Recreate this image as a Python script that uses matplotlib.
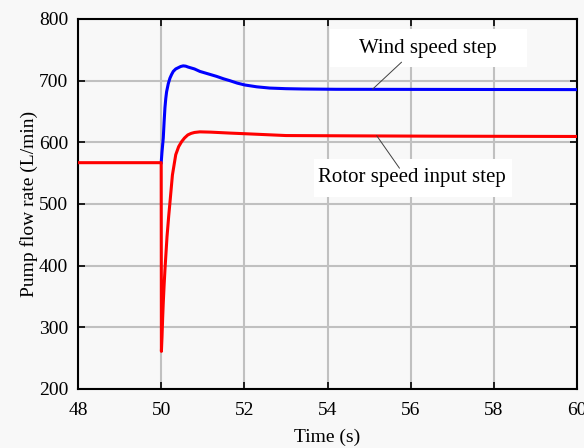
import matplotlib.pyplot as plt
from matplotlib.patches import Rectangle

plt.rcParams["font.family"] = ["Liberation Serif", "DejaVu Serif"]

# red: rotor speed input step
tRotor = [48, 50.0, 50.005, 50.02, 50.035, 50.05, 50.07, 50.09, 50.14, 50.18,
          50.21, 50.27, 50.35, 50.42, 50.49, 50.56, 50.64, 50.72, 50.8, 50.93,
          51.2, 51.65, 52.0, 52.5, 53.0, 54.6, 56.5, 60]
qRotor = [567, 567, 261, 285, 315, 340, 368, 393, 447, 480,
          502, 547, 580, 593, 601, 607, 612, 614.5, 616, 617,
          616.5, 615, 614, 612.5, 611, 610.5, 610, 609.5]

# blue: wind speed step
tWind = [50.0, 50.02, 50.05, 50.07, 50.09, 50.11, 50.13, 50.17, 50.21, 50.25,
         50.29, 50.35, 50.41, 50.47, 50.53, 50.59, 50.65, 50.8, 50.93, 51.13,
         51.33, 51.5, 51.65, 51.83, 52.01, 52.3, 52.61, 53.0, 53.4, 54.2, 60]
qWind = [567, 585, 607, 633, 656, 671, 682, 695, 704, 710,
         715, 719, 721, 723, 724, 723.5, 722, 719, 715, 711,
         707, 703, 700, 696, 693, 690, 688, 687, 686.5, 686, 685.5]

xTicks = [48, 50, 52, 54, 56, 58, 60]
yTicks = [200, 300, 400, 500, 600, 700, 800]

bg = "#f8f8f8"
fig = plt.figure(figsize=(5.84, 4.48), dpi=100, facecolor=bg)
ax = fig.add_axes([0.1336, 0.1317, 0.8545, 0.8259], facecolor=bg)

ax.plot(tWind, qWind, color="#0000ff", lw=2.2, zorder=3)
ax.plot(tRotor, qRotor, color="#ff0000", lw=2.2, zorder=4)

ax.set_xlim(48, 60)
ax.set_ylim(200, 800)
ax.set_xticks(xTicks)
ax.set_yticks(yTicks)
ax.grid(color="#c0c0c0", lw=1.5)
ax.set_axisbelow(True)
ax.tick_params(direction="in", length=5, width=1.2, labelsize=14,
               top=True, right=True)
ax.tick_params(axis="x", pad=9.5)
ax.tick_params(axis="y", pad=7)
for s in ax.spines.values():
    s.set_linewidth(1.5)

ax.set_xlabel("Time (s)", fontsize=14, labelpad=7)
ax.set_ylabel("Pump flow rate (L/min)", fontsize=14, labelpad=1)

# label boxes and leader lines
ax.add_patch(Rectangle((54.05, 722), 4.75, 62, fc="white", ec="none", zorder=5))
ax.add_patch(Rectangle((53.67, 511.5), 4.77, 61.5, fc="white", ec="none", zorder=5))
ax.text(56.4, 752, "Wind speed step", fontsize=15, ha="center", va="center", zorder=6)
ax.text(56.04, 543, "Rotor speed input step", fontsize=15, ha="center", va="center", zorder=6)
line = dict(arrowstyle="-", color="#404040", lw=0.7, shrinkA=0, shrinkB=0)
ax.annotate("", xy=(55.08, 686), xytext=(55.78, 730), arrowprops=line, zorder=6)
ax.annotate("", xy=(55.18, 611), xytext=(55.73, 558), arrowprops=line, zorder=6)

fig.savefig("out.png", dpi=100, facecolor=bg)
